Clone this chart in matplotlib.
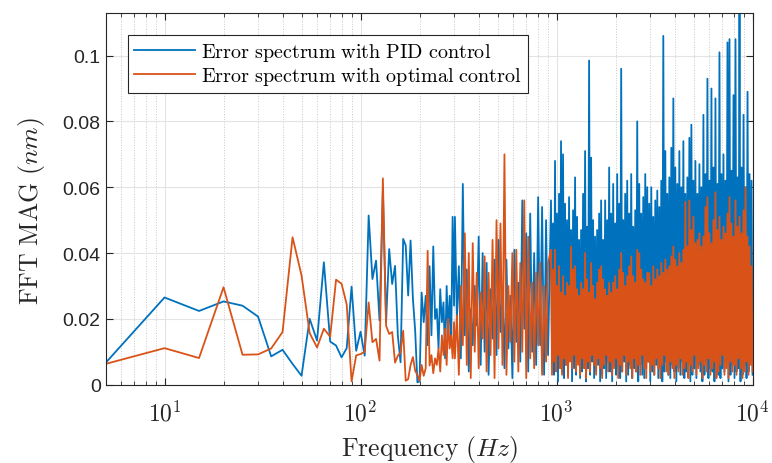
import numpy as np
import matplotlib.pyplot as plt
from matplotlib.ticker import LogLocator, NullFormatter

plt.rcParams['mathtext.fontset'] = 'cm'
plt.rcParams['font.family'] = 'Liberation Sans'

# FFT bins below 300 Hz (5 Hz resolution), one value per bin
lf_freq = np.arange(5, 305, 5)
pid_lf = [
    .0066, .0265, .0224, .0253, .0240, .0207, .0086, .0106, .0063, .0027,
    .0200, .0134, .0372, .0131, .0119, .0083, .0111, .0298, .0103, .0161,
    .0088, .0514, .0321, .0377, .0195, .0590, .0190, .0412, .0306, .0361,
    .0149, .0068, .0443, .0423, .0271, .0438, .0261, .0164, .0007, .0010,
    .0280, .0190, .0270, .0120, .0360, .0150, .0420, .0200, .0230, .0110,
    .0290, .0190, .0250, .0080, .0300, .0160, .0270, .0120, .0510, .0240,
]
opt_lf = [
    .0063, .0111, .0081, .0296, .0091, .0092, .0110, .0160, .0448, .0332,
    .0157, .0113, .0170, .0146, .0319, .0307, .0244, .0010, .0089, .0093,
    .0100, .0250, .0129, .0139, .0073, .0627, .0179, .0154, .0160, .0067,
    .0088, .0098, .0164, .0012, .0017, .0060, .0084, .0042, .0030, .0012,
    .0060, .0027, .0050, .0407, .0058, .0090, .0035, .0080, .0060, .0110,
    .0040, .0150, .0090, .0170, .0060, .0200, .0110, .0150, .0080, .0190,
]

# 300 Hz - 1 kHz: bins get crowded, keep the high / low of each stroke
mid_freq = np.geomspace(303, 905, 48)
pid_mid_hi = [
    .051, .036, .061, .035, .023, .030, .045, .040, .037, .029, .038, .044,
    .028, .038, .027, .041, .031, .056, .046, .052, .040, .057, .054, .050,
]
pid_mid_lo = [
    .020, .008, .015, .004, .012, .018, .006, .010, .003, .014, .009, .016,
    .005, .011, .002, .013, .007, .017, .004, .010, .006, .012, .003, .009,
]
opt_mid_hi = [
    .021, .030, .046, .040, .043, .034, .028, .039, .034, .044, .050, .049,
    .070, .030, .040, .041, .037, .056, .045, .031, .034, .037, .030, .037,
]
opt_mid_lo = [
    .008, .003, .012, .006, .002, .010, .005, .014, .004, .009, .002, .011,
    .006, .003, .013, .007, .004, .010, .002, .008, .005, .012, .003, .007,
]

# above 1 kHz the bins are closer than a pixel: peak and trough per column
hf_freq = np.geomspace(937, 10000, 202)
pid_peak = [
    .056,
    .049, .068, .052, .058, .074, .070, .055, .050, .057, .047,
    .053, .063, .051, .044, .047, .058, .071, .048, .0985, .069,
    .050, .045, .047, .052, .056, .044, .056, .050, .066, .052,
    .061, .049, .064, .055, .096, .050, .058, .062, .052, .064,
    .048, .053, .080, .061, .052, .057, .064, .060, .055, .060,
    .051, .056, .059, .054, .062, .106, .071, .058, .063, .072,
    .087, .066, .061, .071, .060, .074, .058, .063, .075, .079,
    .062, .068, .058, .067, .060, .082, .064, .093, .062, .090,
    .066, .087, .061, .101, .064, .070, .062, .104, .105, .065,
    .088, .105, .063, .118, .066, .082, .060, .089, .064, .062,
]
pid_trough = [
    .008,
    .003, .005, .001, .007, .004, .002, .006, .003, .008, .001,
    .005, .003, .007, .002, .004, .006, .001, .005, .003, .007,
    .002, .004, .006, .001, .003, .005, .002, .007, .004, .001,
    .006, .003, .005, .002, .004, .007, .001, .003, .006, .002,
    .005, .004, .001, .006, .003, .002, .005, .007, .001, .004,
    .003, .006, .002, .005, .001, .004, .007, .003, .002, .006,
    .004, .001, .005, .003, .007, .002, .004, .006, .001, .003,
    .005, .002, .006, .004, .001, .003, .007, .002, .005, .004,
    .001, .006, .003, .002, .005, .004, .007, .001, .003, .006,
    .002, .004, .005, .001, .003, .006, .002, .004, .007, .003,
]
opt_peak = [
    .041,
    .035, .041, .030, .036, .028, .033, .027, .031, .030, .042,
    .035, .036, .029, .027, .031, .029, .040, .032, .028, .037,
    .030, .026, .031, .035, .036, .032, .029, .027, .031, .028,
    .031, .033, .029, .035, .040, .034, .030, .033, .036, .039,
    .033, .031, .041, .040, .035, .032, .031, .034, .034, .030,
    .036, .032, .035, .033, .037, .034, .038, .035, .036, .039,
    .042, .038, .036, .040, .037, .041, .0555, .042, .056, .047,
    .051, .043, .044, .046, .042, .045, .054, .057, .046, .043,
    .050, .0585, .047, .051, .044, .048, .046, .052, .057, .049,
    .045, .056, .048, .051, .046, .053, .060, .045, .042, .036,
]
opt_trough = [
    .003,
    .007, .004, .009, .005, .003, .008, .006, .002, .007, .005,
    .009, .004, .006, .003, .008, .005, .002, .007, .004, .009,
    .006, .003, .008, .005, .002, .006, .009, .004, .007, .003,
    .005, .008, .002, .006, .004, .009, .003, .007, .005, .002,
    .008, .004, .006, .003, .009, .005, .002, .007, .004, .006,
    .003, .008, .005, .002, .006, .009, .004, .003, .007, .005,
    .002, .006, .004, .008, .003, .005, .007, .002, .006, .004,
    .009, .003, .005, .007, .002, .006, .004, .008, .003, .005,
    .007, .002, .004, .006, .009, .003, .005, .002, .007, .004,
    .006, .003, .008, .005, .002, .004, .007, .003, .006, .004,
]

y_ticks = [0, 0.02, 0.04, 0.06, 0.08, 0.1]
y_tick_labels = ['0', '0.02', '0.04', '0.06', '0.08', '0.1']
x_ticks = [10, 100, 1000, 10000]
x_tick_labels = [r'$10^{1}$', r'$10^{2}$', r'$10^{3}$', r'$10^{4}$']


def zigzag(first, second):
    out = np.empty(len(first) + len(second))
    out[0::2] = first
    out[1::2] = second
    return out


def spectrum(lf, mid, hf):
    f = np.concatenate([lf_freq, mid_freq, hf_freq])
    return f, np.concatenate([lf, mid, hf])


f_pid, m_pid = spectrum(pid_lf, zigzag(pid_mid_hi, pid_mid_lo),
                        zigzag(pid_peak, pid_trough))
# the optimal-control strokes sit between the PID ones in the mid band
f_opt, m_opt = spectrum(opt_lf, zigzag(opt_mid_lo, opt_mid_hi),
                        zigzag(opt_peak, opt_trough))

fig = plt.figure(figsize=(7.72, 4.64), dpi=100)
ax = fig.add_axes([0.1367, 0.1688, 0.8381, 0.8021])

ax.plot(f_pid, m_pid, color='#0072BD', lw=1.3,
        label=r'$\mathrm{Error\ spectrum\ with\ PID\ control}$')
ax.plot(f_opt, m_opt, color='#D95319', lw=1.3,
        label=r'$\mathrm{Error\ spectrum\ with\ optimal\ control}$')

ax.set_xscale('log')
ax.set_xlim(5, 1e4)
ax.set_ylim(0, 0.1131)
ax.set_xticks(x_ticks)
ax.set_xticklabels(x_tick_labels, fontsize=17)
ax.xaxis.set_minor_locator(LogLocator(base=10, subs=np.arange(2, 10)))
ax.xaxis.set_minor_formatter(NullFormatter())
ax.set_yticks(y_ticks)
ax.set_yticklabels(y_tick_labels, fontsize=14)

ax.grid(True, which='major', color='#E3E3E3', lw=0.8)
ax.grid(True, which='minor', axis='x', color='#C8C8C8', ls=':', lw=0.7)
ax.set_axisbelow(True)

ax.tick_params(which='both', direction='in', top=True, right=True,
               color='#262626', labelcolor='#262626')
ax.tick_params(which='major', length=5, width=0.8)
ax.tick_params(which='minor', length=3, width=0.6)
ax.tick_params(axis='x', pad=11)
for s in ax.spines.values():
    s.set_color('#262626')
    s.set_linewidth(0.8)

ax.set_xlabel(r'$\mathrm{Frequency}\ (Hz)$', fontsize=18.5, color='#262626',
              va='top')
ax.xaxis.set_label_coords(0.5, -0.13)
ax.set_ylabel(r'$\mathrm{FFT\ MAG}\ (nm)$', fontsize=18.5, color='#262626')
ax.yaxis.set_label_coords(-0.09, 0.47)

leg = ax.legend(loc='upper left', bbox_to_anchor=(0.035, 0.94),
                borderaxespad=0, fontsize=14.5, handlelength=3.0,
                fancybox=False, framealpha=1, edgecolor='#262626',
                borderpad=0.3, labelspacing=0.1, handletextpad=0.3)
leg.get_frame().set_linewidth(0.8)

fig.savefig('out.png', dpi=100)
